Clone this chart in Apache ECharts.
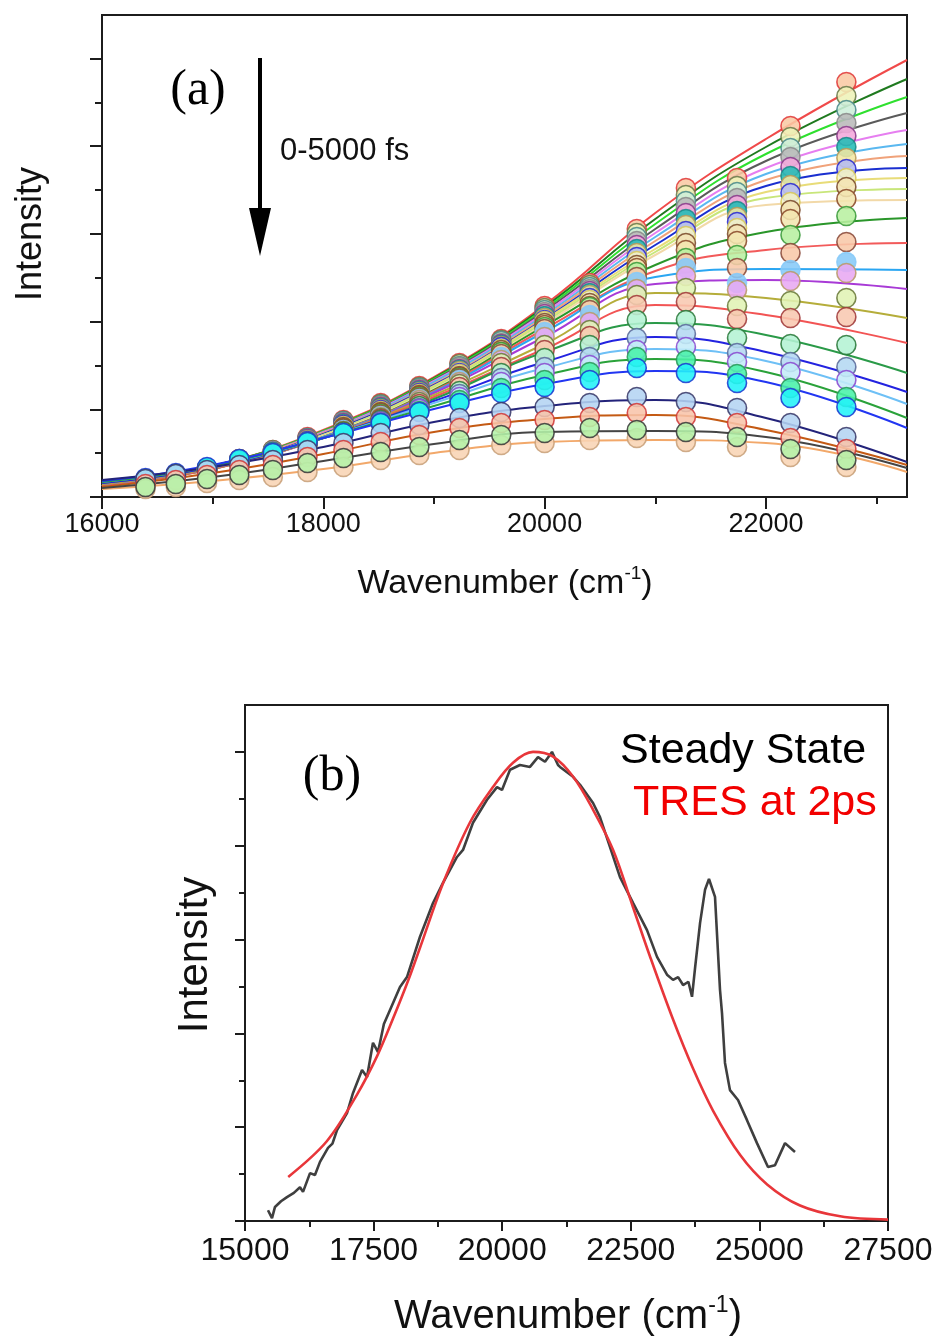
<!DOCTYPE html>
<html>
<head>
<meta charset="utf-8">
<script src="https://cdn.jsdelivr.net/npm/echarts@6/dist/echarts.min.js"></script>
<style>html,body{margin:0;padding:0;background:#fff}#c{width:941px;height:1342px}</style>
</head>
<body>
<div id="c"></div>
<script>
// ---------------- Panel (a) data ----------------
// wavenumbers of the measured points (cm-1)
const aCols = [16393, 16667, 16949, 17241, 17544, 17857, 18182, 18519, 18868, 19231, 19608, 20000, 20408, 20833, 21277, 21739, 22222, 22727];
// wavenumbers at which the fitted curves are read
const aFitX = [16000, 17000, 18000, 19000, 20000, 21000, 22000, 23275];
// axis ticks
const aXMajor = [16000, 18000, 20000, 22000];
const aXMinor = [17000, 19000, 21000, 23000];
const aYMajor = [0, 87.7, 175.4, 263.1, 350.8, 438.5];
const aYMinor = [43.85, 131.55, 219.25, 306.95, 394.65];

// measured intensities (a.u.), one list per delay time, 0 fs first
const aMk01 = [17, 22, 29, 38, 47, 60, 77, 94, 111, 134, 158, 191, 214, 268, 309, 319, 371, 415];
const aMk02 = [17, 22, 29, 38, 47, 59, 76, 93, 110, 133, 157, 189, 212, 264, 302, 311, 360, 401];
const aMk03 = [17, 22, 29, 37, 46, 59, 76, 92, 109, 131, 156, 187, 210, 260, 296, 305, 349, 387];
const aMk04 = [16, 21, 28, 37, 46, 58, 75, 91, 108, 130, 154, 185, 208, 256, 290, 299, 340, 374];
const aMk05 = [16, 21, 28, 37, 45, 58, 74, 90, 107, 128, 153, 183, 206, 252, 284, 292, 330, 361];
const aMk06 = [16, 21, 28, 36, 45, 57, 73, 89, 106, 127, 152, 181, 204, 248, 278, 286, 321, 350];
const aMk07 = [16, 21, 27, 36, 44, 57, 72, 88, 105, 126, 151, 179, 202, 244, 272, 280, 312, 339];
const aMk08 = [16, 21, 27, 35, 44, 56, 72, 87, 104, 124, 150, 177, 199, 240, 266, 275, 304, 328];
const aMk09 = [15, 20, 27, 35, 43, 55, 71, 86, 103, 123, 148, 176, 197, 236, 261, 269, 295, 319];
const aMk10 = [15, 20, 26, 35, 43, 55, 70, 85, 102, 121, 147, 174, 194, 232, 254, 263, 287, 310];
const aMk11 = [15, 20, 26, 34, 42, 54, 69, 84, 101, 120, 145, 172, 191, 229, 247, 256, 278, 298];
const aMk12 = [15, 20, 26, 34, 42, 54, 68, 83, 100, 119, 145, 170, 190, 225, 239, 242, 262, 281];
const aMk13 = [15, 20, 26, 34, 42, 54, 68, 82, 99, 118, 143, 168, 187, 220, 234, 229, 244, 255];
const aMk14 = [16, 21, 27, 34, 42, 53, 67, 81, 98, 117, 140, 165, 182, 215, 229, 214, 227, 235];
const aMk15 = [16, 21, 27, 35, 42, 53, 66, 80, 97, 115, 137, 160, 175, 208, 221, 207, 216, 224];
const aMk16 = [16, 21, 27, 35, 43, 53, 66, 79, 95, 113, 134, 152, 167, 202, 209, 191, 196, 199];
const aMk17 = [17, 22, 28, 35, 43, 53, 65, 78, 93, 110, 130, 147, 161, 192, 195, 178, 179, 180];
const aMk18 = [17, 22, 28, 36, 43, 54, 65, 77, 91, 106, 124, 139, 152, 177, 177, 159, 153, 152];
const aMk19 = [17, 22, 28, 36, 44, 54, 64, 76, 89, 103, 119, 130, 140, 159, 163, 144, 135, 130];
const aMk20 = [18, 23, 29, 37, 44, 55, 64, 75, 88, 100, 115, 124, 132, 147, 150, 135, 125, 117];
const aMk21 = [18, 23, 29, 37, 44, 55, 64, 74, 86, 97, 109, 117, 125, 140, 137, 123, 109, 100];
const aMk22 = [19, 24, 30, 38, 44, 55, 64, 74, 85, 94, 104, 110, 117, 129, 124, 114, 99, 90];
const aMk23 = [18, 23, 27, 32, 37, 47, 54, 64, 72, 79, 85, 90, 94, 100, 95, 89, 74, 60];
const aMk24 = [13, 17, 22, 27, 32, 40, 47, 55, 62, 69, 74, 77, 80, 84, 80, 74, 59, 48];
const aMk25 = [10, 13, 18, 22, 27, 34, 39, 45, 50, 57, 62, 64, 69, 67, 65, 60, 48, 37];
const aMk26 = [8, 10, 14, 17, 20, 25, 30, 37, 42, 47, 52, 54, 57, 59, 55, 50, 40, 30];

// fitted curves read at aFitX
const aFit01 = [11, 31, 67, 120, 192, 284, 358, 437];
const aFit02 = [11, 31, 66, 119, 190, 278, 350, 418];
const aFit03 = [11, 31, 66, 118, 188, 273, 343, 400];
const aFit04 = [11, 31, 65, 117, 186, 268, 336, 384];
const aFit05 = [11, 30, 65, 116, 184, 264, 329, 367];
const aFit06 = [11, 30, 64, 115, 182, 260, 323, 353];
const aFit07 = [11, 30, 64, 113, 180, 256, 317, 341];
const aFit08 = [11, 29, 63, 112, 178, 252, 311, 329];
const aFit09 = [11, 29, 62, 111, 177, 248, 305, 319];
const aFit10 = [11, 29, 62, 110, 175, 245, 299, 308];
const aFit11 = [11, 28, 61, 108, 173, 242, 292, 297];
const aFit12 = [12, 28, 60, 107, 171, 232, 265, 279];
const aFit13 = [12, 28, 60, 106, 168, 226, 247, 254];
const aFit14 = [13, 29, 60, 105, 165, 220, 228, 227];
const aFit15 = [13, 29, 59, 104, 160, 213, 217, 208];
const aFit16 = [13, 29, 59, 102, 153, 204, 199, 179];
const aFit17 = [14, 30, 59, 100, 148, 192, 182, 154];
const aFit18 = [14, 30, 59, 98, 145, 174, 162, 124];
const aFit19 = [14, 30, 59, 96, 135, 160, 145, 105];
const aFit20 = [15, 31, 59, 94, 129, 148, 136, 93];
const aFit21 = [15, 31, 59, 91, 122, 138, 125, 79];
const aFit22 = [16, 32, 59, 88, 113, 126, 115, 69];
const aFit23 = [17, 30, 50, 75, 91, 97, 79, 35];
const aFit24 = [10, 24, 43, 65, 78, 82, 67, 32];
const aFit25 = [9, 20, 36, 53, 65, 66, 60, 29];
const aFit26 = [8, 16, 28, 44, 55, 57, 54, 25];

// ---------------- Panel (b) data ----------------
const bXTicks = [15000, 17500, 20000, 22500, 25000, 27500];
const bYMajor = [0, 0.2, 0.4, 0.6, 0.8, 1.0];
const bYMinor = [0.1, 0.3, 0.5, 0.7, 0.9];
const ssX = [15447, 15525, 15583, 15700, 15816, 15950, 16069, 16128, 16264, 16360, 16458, 16614, 16700, 16789, 16983, 17100, 17275, 17372, 17488, 17586, 17700, 17819, 18013, 18149, 18402, 18655, 18849, 19121, 19238, 19432, 19705, 19899, 19996, 20152, 20346, 20540, 20696, 20832, 20968, 21085, 21124, 21377, 21513, 21766, 21901, 22096, 22290, 22543, 22815, 23010, 23204, 23321, 23420, 23516, 23620, 23690, 23750, 23846, 23943, 24020, 24137, 24234, 24273, 24331, 24428, 24584, 24759, 24953, 25167, 25303, 25498, 25692];
const ssY = [0.023, 0.006, 0.030, 0.042, 0.051, 0.060, 0.072, 0.062, 0.102, 0.098, 0.126, 0.156, 0.165, 0.194, 0.230, 0.273, 0.322, 0.307, 0.380, 0.360, 0.420, 0.450, 0.499, 0.520, 0.606, 0.678, 0.721, 0.776, 0.791, 0.849, 0.898, 0.925, 0.919, 0.962, 0.972, 0.968, 0.989, 0.979, 1.000, 0.972, 0.968, 0.947, 0.930, 0.891, 0.861, 0.797, 0.733, 0.678, 0.620, 0.563, 0.525, 0.514, 0.520, 0.503, 0.510, 0.478, 0.540, 0.635, 0.706, 0.729, 0.691, 0.493, 0.443, 0.337, 0.279, 0.258, 0.215, 0.166, 0.115, 0.119, 0.166, 0.147];
const tresX = [15840, 16590, 17180, 17570, 17880, 18170, 18400, 18850, 19370, 19820, 20210, 20600, 20990, 21380, 21770, 22160, 22540, 22870, 23320, 23710, 24100, 24630, 25150, 25790, 26570, 27500];
const tresY = [0.094, 0.170, 0.270, 0.352, 0.432, 0.512, 0.582, 0.720, 0.849, 0.925, 0.977, 1.0, 0.99, 0.947, 0.876, 0.790, 0.670, 0.565, 0.430, 0.325, 0.235, 0.140, 0.078, 0.033, 0.010, 0.003];

// ---------------- styles ----------------
const aMarks = [aMk01,aMk02,aMk03,aMk04,aMk05,aMk06,aMk07,aMk08,aMk09,aMk10,aMk11,aMk12,aMk13,aMk14,aMk15,aMk16,aMk17,aMk18,aMk19,aMk20,aMk21,aMk22,aMk23,aMk24,aMk25,aMk26];
const aFits = [aFit01,aFit02,aFit03,aFit04,aFit05,aFit06,aFit07,aFit08,aFit09,aFit10,aFit11,aFit12,aFit13,aFit14,aFit15,aFit16,aFit17,aFit18,aFit19,aFit20,aFit21,aFit22,aFit23,aFit24,aFit25,aFit26];
const drawOrder = [0,1,2,3,4,5,6,7,8,9,10,11,12,13,14,15,16,17,18,19,20,21,22,23,25,24];
const lineColors = ['#f04a4a','#1f7a1f','#2ee02e','#5a5a5a','#e67ef0','#5ab8f0','#f0a27a','#1a2fd0','#e8dc78','#c8e67a','#f2d9a8','#2a962a','#f25a5a','#2aa6f2','#a83ad6','#b5ad3a','#f25454','#2a9a48','#2323e0','#6ec0f6','#2aa23a','#2236f2','#23237a','#c45a14','#454545','#f2a86a'];
const markFill = ['#f9c9a4','#eef2b8','#cdeed9','#b9b9b9','#f4a8dc','#22bdb5','#f2e6a2','#b4bcf2','#f4f2c4','#f2e2b4','#f2e6b0','#b8f0a0','#f8c8a8','#86caf8','#e8a8f2','#e0f2b4','#f8c8b0','#b4f2d4','#b4d8f2','#c4ecf8','#48f2a8','#22f2f8','#b4d4f2','#f8c4aa','#b4f2a8','#f8d4b4'];
const markBorder = ['#e03a3a','#6a7a4a','#4a8a8a','#8a8a8a','#8a3a8a','#1a8a8a','#b89a5a','#2a2ad0','#d8c85a','#7a4a2a','#8a4a2a','#3a9a3a','#8a4a3a','#86caf8','#b89a6a','#6a7a3a','#a03a3a','#2a7a3a','#5a6a9a','#8a4ad0','#2a9a5a','#1a3ad0','#3a3a6a','#d03a3a','#3a3a3a','#c8a07a'];

function hasFont(name) {
  const c = document.createElement('canvas').getContext('2d');
  c.font = '40px monospace'; const w1 = c.measureText('22000 Wavenumber').width;
  c.font = "40px '" + name + "', monospace"; const w2 = c.measureText('22000 Wavenumber').width;
  return Math.abs(w1 - w2) > 0.5;
}
const narrowOK = hasFont('Liberation Sans Narrow');
const aTickFont = narrowOK ? {fontFamily: 'Liberation Sans Narrow', fontSize: 33} : {fontFamily: 'Liberation Sans', fontSize: 27};

const AX = '#1c1c1c';
const fmt = v => String(v);

const series = [];
for (const i of drawOrder) {
  series.push({
    type: 'line', xAxisIndex: 0, yAxisIndex: 0, z: 2,
    data: aFitX.map((x, j) => [x, aFits[i][j]]),
    smooth: 0.45, symbol: 'none', showSymbol: false,
    lineStyle: {color: lineColors[i], width: 2}, silent: true
  });
  series.push({
    type: 'scatter', xAxisIndex: 0, yAxisIndex: 0, z: 2,
    data: aCols.map((x, j) => [x, aMarks[i][j]]),
    symbol: 'circle', symbolSize: 19,
    itemStyle: {color: markFill[i], borderColor: markBorder[i], borderWidth: 1.6, opacity: 0.88},
    silent: true
  });
}
series.push({
  type: 'line', xAxisIndex: 2, yAxisIndex: 2, z: 3,
  data: ssX.map((x, j) => [x, ssY[j]]),
  symbol: 'none', lineStyle: {color: '#3f3f3f', width: 2.6}, silent: true
});
series.push({
  type: 'line', xAxisIndex: 2, yAxisIndex: 2, z: 4,
  data: tresX.map((x, j) => [x, tresY[j]]),
  smooth: 0.35, symbol: 'none', lineStyle: {color: '#e8363a', width: 2.6}, silent: true
});

const gridCommon = {show: true, borderColor: AX, borderWidth: 2, backgroundColor: 'transparent', containLabel: false, outerBoundsMode: 'none'};

const option = {
  animation: false,
  backgroundColor: '#fff',
  grid: [
    Object.assign({left: 102, top: 15, width: 805, height: 482}, gridCommon),
    Object.assign({left: 245, top: 705, width: 643, height: 516}, gridCommon)
  ],
  xAxis: [
    {type: 'value', gridIndex: 0, position: 'bottom', min: 16000, max: 23275, splitLine: {show: false},
     axisLine: {show: true, onZero: false, lineStyle: {color: AX, width: 2}},
     axisTick: {show: true, customValues: aXMajor, length: 12, lineStyle: {color: AX, width: 2}},
     axisLabel: {show: true, customValues: aXMajor, formatter: fmt, color: '#111', margin: 14,
                 fontFamily: aTickFont.fontFamily, fontSize: aTickFont.fontSize}},
    {type: 'value', gridIndex: 0, position: 'bottom', min: 16000, max: 23275, splitLine: {show: false},
     axisLine: {show: false, onZero: false},
     axisTick: {show: true, customValues: aXMinor, length: 7, lineStyle: {color: AX, width: 2}},
     axisLabel: {show: false}},
    {type: 'value', gridIndex: 1, position: 'bottom', min: 15000, max: 27500, interval: 2500, splitLine: {show: false},
     axisLine: {show: true, onZero: false, lineStyle: {color: AX, width: 2}},
     axisTick: {show: true, length: 10, lineStyle: {color: AX, width: 2}},
     minorTick: {show: true, splitNumber: 2, length: 6, lineStyle: {color: AX, width: 2}},
     axisLabel: {show: true, customValues: bXTicks, formatter: fmt, color: '#111', margin: 14,
                 fontFamily: 'Liberation Sans', fontSize: 32}}
  ],
  yAxis: [
    {type: 'value', gridIndex: 0, position: 'left', min: 0, max: 482, splitLine: {show: false},
     axisLine: {show: true, onZero: false, lineStyle: {color: AX, width: 2}},
     axisTick: {show: true, customValues: aYMajor, length: 12, lineStyle: {color: AX, width: 2}},
     axisLabel: {show: false}},
    {type: 'value', gridIndex: 0, position: 'left', min: 0, max: 482, splitLine: {show: false},
     axisLine: {show: false, onZero: false},
     axisTick: {show: true, customValues: aYMinor, length: 7, lineStyle: {color: AX, width: 2}},
     axisLabel: {show: false}},
    {type: 'value', gridIndex: 1, position: 'left', min: 0, max: 1.1, splitLine: {show: false},
     axisLine: {show: true, onZero: false, lineStyle: {color: AX, width: 2}},
     axisTick: {show: true, customValues: bYMajor, length: 10, lineStyle: {color: AX, width: 2}},
     axisLabel: {show: false}},
    {type: 'value', gridIndex: 1, position: 'left', min: 0, max: 1.1, splitLine: {show: false},
     axisLine: {show: false, onZero: false},
     axisTick: {show: true, customValues: bYMinor, length: 6, lineStyle: {color: AX, width: 2}},
     axisLabel: {show: false}}
  ],
  graphic: [
    {type: 'text', x: 198, y: 91, z: 100, style: {text: '(a)', font: '50px "Liberation Serif"', fill: '#000', align: 'center', verticalAlign: 'middle'}},
    {type: 'text', x: 280, y: 151, z: 100, style: {text: '0-5000 fs', font: '31px "Liberation Sans"', fill: '#111', align: 'left', verticalAlign: 'middle'}},
    {type: 'line', z: 100, shape: {x1: 260, y1: 58, x2: 260, y2: 215}, style: {stroke: '#000', lineWidth: 4}},
    {type: 'polygon', z: 100, shape: {points: [[249, 208], [271, 208], [260, 256]]}, style: {fill: '#000'}},
    {type: 'text', x: 31, y: 234, rotation: Math.PI / 2, z: 100, style: {text: 'Intensity', font: '36px "Liberation Sans"', fill: '#111', align: 'center', verticalAlign: 'middle'}},
    {type: 'text', x: 505, y: 584, z: 100, style: {
      text: '{m|Wavenumber (cm}{s|-1}{m|)}', align: 'center', verticalAlign: 'middle',
      rich: {m: {fontSize: 34, fontFamily: 'Liberation Sans', lineHeight: 40, fill: '#111'},
             s: {fontSize: 19, fontFamily: 'Liberation Sans', lineHeight: 22, verticalAlign: 'top', fill: '#111'}}}},
    {type: 'text', x: 332, y: 777, z: 100, style: {text: '(b)', font: '50px "Liberation Serif"', fill: '#000', align: 'center', verticalAlign: 'middle'}},
    {type: 'text', x: 620, y: 751, z: 100, style: {text: 'Steady State', font: '43px "Liberation Sans"', fill: '#000', align: 'left', verticalAlign: 'middle'}},
    {type: 'text', x: 633, y: 803, z: 100, style: {text: 'TRES at 2ps', font: '43px "Liberation Sans"', fill: '#f20000', align: 'left', verticalAlign: 'middle'}},
    {type: 'text', x: 195, y: 955, rotation: Math.PI / 2, z: 100, style: {text: 'Intensity', font: '42px "Liberation Sans"', fill: '#111', align: 'center', verticalAlign: 'middle'}},
    {type: 'text', x: 568, y: 1317, z: 100, style: {
      text: '{m|Wavenumber (cm}{s|-1}{m|)}', align: 'center', verticalAlign: 'middle',
      rich: {m: {fontSize: 40, fontFamily: 'Liberation Sans', lineHeight: 46, fill: '#111'},
             s: {fontSize: 23, fontFamily: 'Liberation Sans', lineHeight: 26, verticalAlign: 'top', fill: '#111'}}}}
  ],
  series: series
};

const chart = echarts.init(document.getElementById('c'), null, {renderer: 'canvas', width: 941, height: 1342});
chart.setOption(option);
</script>
</body>
</html>
